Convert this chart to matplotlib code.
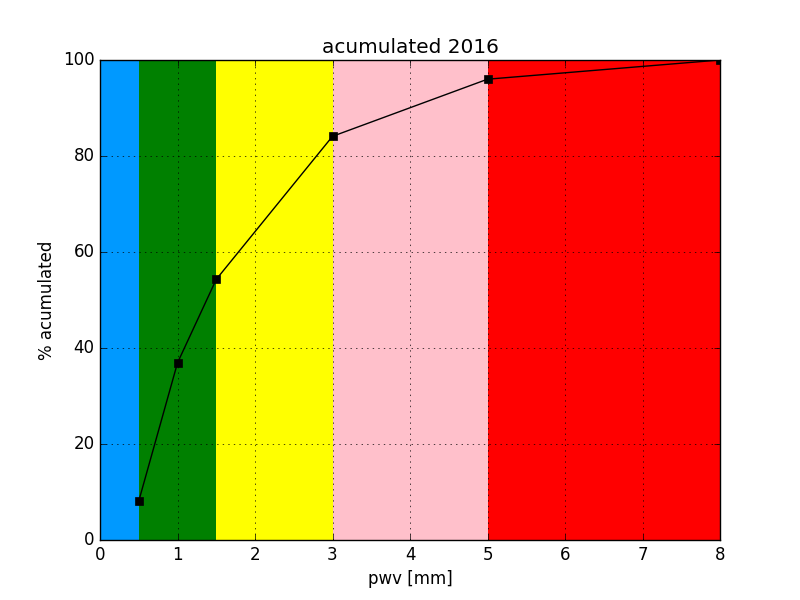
import matplotlib
matplotlib.use("Agg")
import matplotlib.pyplot as plt

# pwv limits and colours of the bands
band_edges = [0, 0.5, 1.5, 3, 5, 8]
band_colors = ["#0099ff", "green", "yellow", "pink", "red"]

# accumulated percentage
pwv = [0.5, 1, 1.5, 3, 5, 8]
acum = [8.1, 36.9, 54.3, 84.1, 96.0, 100.0]

plt.style.use("classic")
fig = plt.figure(figsize=(8, 6), dpi=100, facecolor="white")
ax = fig.add_subplot(111)

for i in range(len(band_colors)):
    ax.axvspan(band_edges[i], band_edges[i + 1], color=band_colors[i], lw=0, zorder=0)

ax.plot(pwv, acum, "s-", color="black", markersize=6, zorder=3)

ax.set_xlim(0, 8)
ax.set_ylim(0, 100)
ax.set_xlabel("pwv [mm]")
ax.set_ylabel("% acumulated")
ax.set_title("acumulated 2016")
ax.grid(True)
ax.set_axisbelow(False)

fig.savefig("out.png", dpi=100, facecolor="white")
